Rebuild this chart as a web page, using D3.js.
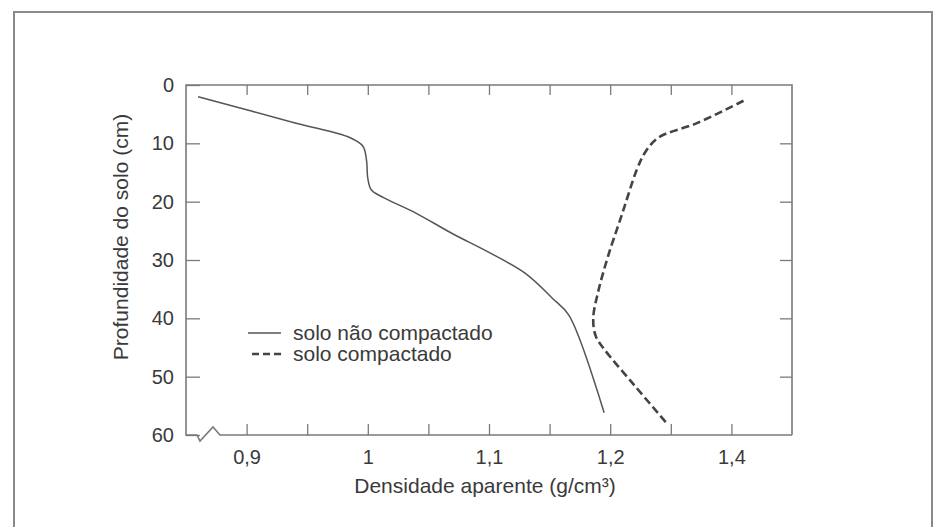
<!DOCTYPE html>
<html>
<head>
<meta charset="utf-8">
<script src="https://cdn.jsdelivr.net/npm/d3@7"></script>
<style>
  body { margin: 0; background: #fff; }
  text { font-family: "Liberation Sans", Arial, sans-serif; fill: #3a3a3a; }
</style>
</head>
<body>
<div id="my_dataviz"></div>
<script>
// data: [density g/cm3, depth cm]
var naoCompactado = [
  [0.86, 2], [0.94, 6.5], [0.985, 9], [0.996, 10.5], [0.999, 13], [1.0, 16],
  [1.003, 18], [1.013, 19.3], [1.04, 22], [1.07, 25.5], [1.10, 28.7],
  [1.13, 32.3], [1.152, 36.5], [1.166, 39.5], [1.195, 56.2]
];
var compactado = [
  [1.31, 2.7], [1.272, 6.5], [1.24, 9], [1.229, 11.5], [1.222, 14.5],
  [1.21, 22], [1.198, 29.5], [1.19, 35.5], [1.186, 40], [1.188, 43],
  [1.194, 45], [1.22, 51.5], [1.248, 58.3]
];
var xTickValues = [0.9, 0.95, 1.0, 1.05, 1.1, 1.15, 1.2, 1.25, 1.3];
// labels as printed on the original axis (last one reads 1,4)
var xTickLabels = {0.9: "0,9", 1.0: "1", 1.1: "1,1", 1.2: "1,2", 1.3: "1,4"};
var yTickValues = [0, 10, 20, 30, 40, 50, 60];
var legendNames = ["solo não compactado", "solo compactado"];

var W = 936, H = 527;
var margin = {top: 85, right: 144, bottom: 92, left: 186},
    width = W - margin.left - margin.right,
    height = H - margin.top - margin.bottom;

var root = d3.select("#my_dataviz")
  .append("svg")
    .attr("width", W)
    .attr("height", H);

// outer frame of the figure
root.append("rect")
  .attr("x", 14).attr("y", 12)
  .attr("width", 918).attr("height", 540)
  .attr("fill", "none")
  .attr("stroke", "#8a8a8a")
  .attr("stroke-width", 2);

var svg = root.append("g")
  .attr("transform", "translate(" + margin.left + "," + margin.top + ")");

var x = d3.scaleLinear().domain([0.85, 1.35]).range([0, width]);
var y = d3.scaleLinear().domain([0, 60]).range([0, height]);

var axisColor = "#7a7a7a";

function styleAxis(g) {
  g.select(".domain").remove();
  g.selectAll(".tick line").attr("stroke", axisColor).attr("stroke-width", 1.3);
  g.selectAll(".tick text").style("font-size", "20px").attr("fill", "#3a3a3a");
}

// bottom axis
svg.append("g")
  .attr("transform", "translate(0," + height + ")")
  .call(d3.axisBottom(x).tickValues(xTickValues).tickSize(-11).tickPadding(15)
    .tickFormat(function(d) { return xTickLabels[d] || ""; }))
  .call(styleAxis);

// top axis
svg.append("g")
  .call(d3.axisTop(x).tickValues(xTickValues).tickSize(-10).tickFormat(""))
  .call(styleAxis);

// left axis
svg.append("g")
  .call(d3.axisLeft(y).tickValues(yTickValues).tickSize(-14).tickPadding(12))
  .call(styleAxis);

// right axis
svg.append("g")
  .attr("transform", "translate(" + width + ",0)")
  .call(d3.axisRight(y).tickValues(yTickValues.slice(1, -1)).tickSize(-12).tickFormat(""))
  .call(styleAxis);

// frame lines with axis break on the bottom
svg.append("path")
  .attr("d", "M" + width + "," + height + "V0H0V" + height +
             "H11L14," + (height + 6) + "L27," + (height - 8) + "L34," + height + "H" + width)
  .attr("fill", "none")
  .attr("stroke", axisColor)
  .attr("stroke-width", 1.6);

var line = d3.line()
  .x(function(d) { return x(d[0]); })
  .y(function(d) { return y(d[1]); })
  .curve(d3.curveCatmullRom.alpha(0.5));

svg.append("path")
  .datum(naoCompactado)
  .attr("d", line)
  .attr("fill", "none")
  .attr("stroke", "#555")
  .attr("stroke-width", 1.5);

svg.append("path")
  .datum(compactado)
  .attr("d", line)
  .attr("fill", "none")
  .attr("stroke", "#444")
  .attr("stroke-width", 2.6)
  .attr("stroke-dasharray", "8,4");

// legend
var legend = svg.append("g").attr("transform", "translate(62,248)");
legendNames.forEach(function(name, i) {
  legend.append("line")
    .attr("x1", i ? 4 : 0).attr("x2", 33)
    .attr("y1", i * 21).attr("y2", i * 21)
    .attr("stroke", i ? "#444" : "#555")
    .attr("stroke-width", i ? 2.4 : 1.3)
    .attr("stroke-dasharray", i ? "7,4" : null);
  legend.append("text")
    .attr("x", 45).attr("y", i * 21 + 7)
    .style("font-size", "21px")
    .text(name);
});

// axis titles
root.append("text")
  .attr("x", 485).attr("y", 493)
  .attr("text-anchor", "middle")
  .style("font-size", "21px")
  .text("Densidade aparente (g/cm³)");

root.append("text")
  .attr("transform", "translate(128,237) rotate(-90)")
  .attr("text-anchor", "middle")
  .style("font-size", "21px")
  .text("Profundidade do solo (cm)");
</script>
</body>
</html>
